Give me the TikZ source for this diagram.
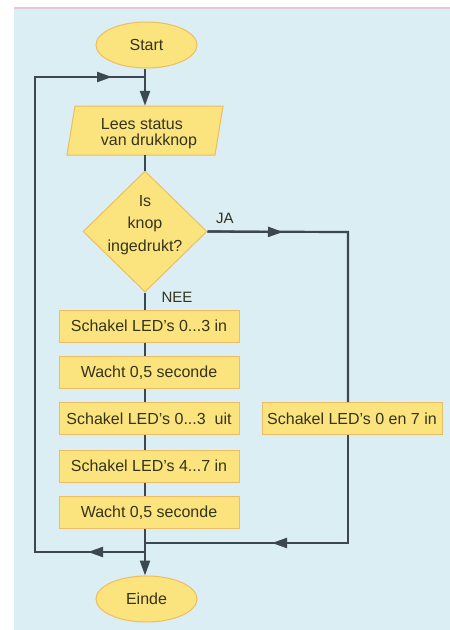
\documentclass[tikz,border=0pt]{standalone}
\usepackage{fontspec}
\setmainfont{Liberation Sans}
\usetikzlibrary{shapes.geometric,arrows.meta}
\definecolor{bgblue}{HTML}{DAEEF3}
\definecolor{toppink}{HTML}{E6C6DA}
\definecolor{boxfill}{HTML}{FBE47E}
\definecolor{boxedge}{HTML}{EEBC62}
\definecolor{linecol}{HTML}{3D4752}
\definecolor{txtcol}{HTML}{35331C}
\newcommand{\apos}{\symbol{"27}}
\begin{document}
\begin{tikzpicture}[x=1pt,y=-1pt,
  every node/.style={font=\fontsize{16}{16}\selectfont, text=txtcol},
  shapebox/.style={fill=boxfill, draw=boxedge, line width=1pt},
  term/.style={shapebox, ellipse, minimum width=101pt, minimum height=46pt, inner sep=0pt},
  stepbox/.style={shapebox, rectangle, minimum width=180pt, minimum height=32pt, inner sep=0pt},
  dia/.style={shapebox, diamond, minimum width=124pt, minimum height=121pt, inner sep=0pt},
  ln/.style={draw=linecol, line width=2.2pt},
  tip/.style={-{Triangle[length=15pt,width=10pt]}},
  lbl/.style={font=\fontsize{15}{15}\selectfont}
]
\useasboundingbox (0,0) rectangle (450,630);
\fill[bgblue] (14,8) rectangle (450,630);
\draw[toppink, line width=1.5pt] (14,8) -- (450,8);

% nodes
\node[term] (start) at (146.5,45) {Start};
\node[minimum width=148pt, minimum height=49pt, inner sep=0pt] (read) at (145,130.5) {};
\draw[shapebox] (75,106) -- (223,106) -- (215,155) -- (67,155) -- cycle;
\node[align=left, font=\fontsize{16}{15.5}\selectfont] (readtxt) at (149,133.5) {Lees status\\van drukknop};
\node[dia] (dec) at (145,231.5) {};
\node[align=center, font=\fontsize{16}{22.5}\selectfont] (dectxt) at (145,225) {Is\\knop\\ingedrukt?};
\node[lbl] (ja) at (225,218) {JA};
\node[lbl] (nee) at (177,297) {NEE};
\node[stepbox] (b1) at (149,326) {Schakel LED\apos s 0...3 in};
\node[stepbox] (b2) at (149,372.5) {Wacht 0,5 seconde};
\node[stepbox] (b3) at (149,418.5) {Schakel LED\apos s 0...3\ \ uit};
\node[stepbox] (b4) at (149,466) {Schakel LED\apos s 4...7 in};
\node[stepbox] (b5) at (149,512.5) {Wacht 0,5 seconde};
\node[stepbox] (r) at (352,418.5) {Schakel LED\apos s 0 en 7 in};
\node[term] (end) at (146.5,599) {Einde};

% helper coordinates
\coordinate (top) at (145,77);
\coordinate (tl) at (35,77);
\coordinate (bl) at (35,552);
\coordinate (bj) at (145,552);
\coordinate (rj) at (145,543);
\coordinate (rc) at (348,543);
\coordinate (jr) at (348,232);
\coordinate (a1) at (112,77);
\coordinate (a2) at (88,552);
\coordinate (a3) at (283,232);
\coordinate (a4) at (272,543);

% connectors
\draw[ln] (start.south -| top) -- (top);
\draw[ln,tip] (top) -- (read.north);
\draw[ln] (read.south) -- (dec.north);
\draw[ln] (dec.south) -- (dec.south |- b1.north);
\draw[ln] (b1.south -| top) -- (b2.north -| top);
\draw[ln] (b2.south -| top) -- (b3.north -| top);
\draw[ln] (b3.south -| top) -- (b4.north -| top);
\draw[ln] (b4.south -| top) -- (b5.north -| top);
\draw[ln] (b5.south -| top) -- (bj);
\draw[ln,tip] (bj) -- (end.north -| top);
% loop back
\draw[ln] (bj) -- (bl) -- (tl) -- (top);
\draw[ln,tip] (tl) -- (a1);
\draw[ln,tip] (bj) -- (a2);
% JA branch
\draw[ln] (dec.east) -- (jr) -- (jr |- r.north);
\draw[ln,tip] (dec.east) -- (a3);
\draw[ln] (jr |- r.south) -- (rc) -- (rj);
\draw[ln,tip] (rc) -- (a4);
\end{tikzpicture}
\end{document}
